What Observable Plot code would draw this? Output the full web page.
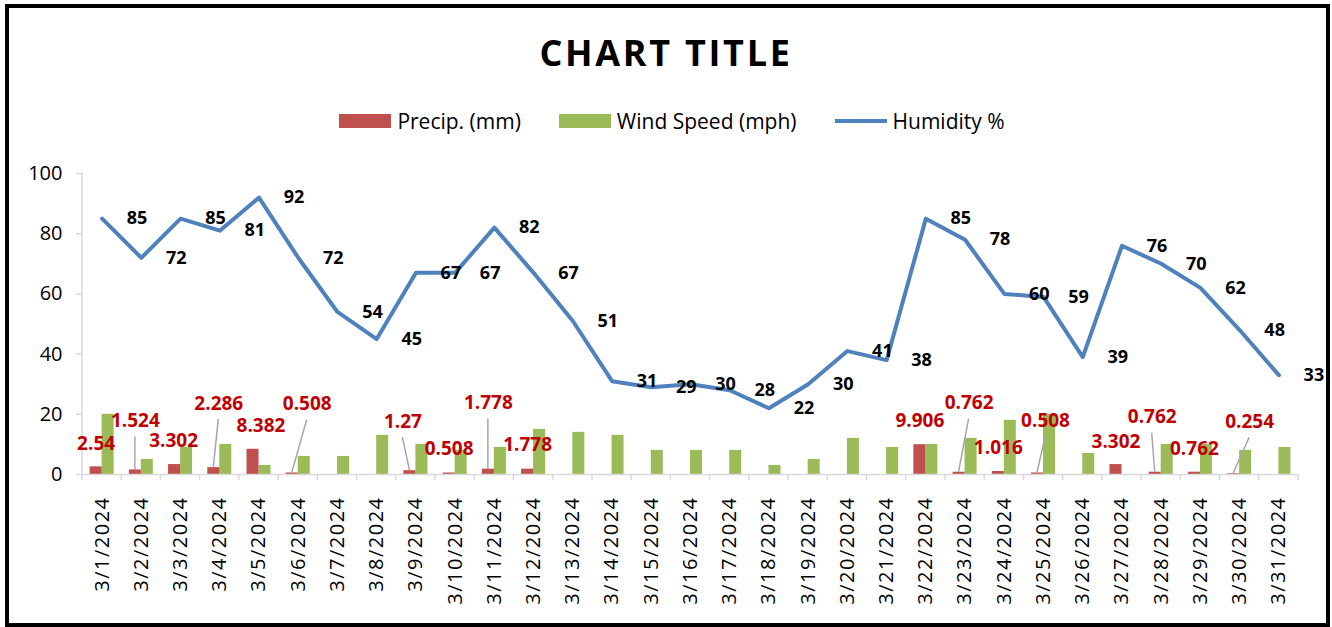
<!DOCTYPE html>
<html>
<head>
<meta charset="utf-8">
<script src="https://cdn.jsdelivr.net/npm/d3@7"></script>
<script src="https://cdn.jsdelivr.net/npm/@observablehq/plot@0.6"></script>
<style>
html, body { margin: 0; padding: 0; background: #fff; width: 1332px; height: 627px; overflow: hidden; font-family: "Open Sans", sans-serif; }
#frame { position: absolute; left: 5px; top: 4px; width: 1317px; height: 615px; border: 4px solid #000; pointer-events: none; z-index: 5; }
#title { position: absolute; left: 0; width: 1332px; top: 28px; text-align: center; font-weight: 700; font-size: 36px; letter-spacing: 2.7px; line-height: 50px; color: #000; }
#legend { position: absolute; top: 107px; left: 6px; width: 1332px; display: flex; justify-content: center; align-items: center; font-size: 21px; line-height: 28px; color: #000; }
.item { display: flex; align-items: center; margin: 0 19px; }
.sw { width: 52px; height: 14px; margin-right: 6px; }
.ln { width: 52px; height: 4px; margin-right: 6px; }
#chart { position: absolute; left: 0; top: 150px; }
#chart g[aria-label="x-axis tick label"] text { letter-spacing: 1.5px; }
</style>
</head>
<body>
<div id="frame"></div>
<div id="title">CHART TITLE</div>
<div id="legend"></div>
<div id="chart"></div>
<script>
// ---- data ----
const dates = ["3/1/2024","3/2/2024","3/3/2024","3/4/2024","3/5/2024","3/6/2024","3/7/2024","3/8/2024","3/9/2024","3/10/2024",
  "3/11/2024","3/12/2024","3/13/2024","3/14/2024","3/15/2024","3/16/2024","3/17/2024","3/18/2024","3/19/2024","3/20/2024",
  "3/21/2024","3/22/2024","3/23/2024","3/24/2024","3/25/2024","3/26/2024","3/27/2024","3/28/2024","3/29/2024","3/30/2024","3/31/2024"];
const precip = [2.54, 1.524, 3.302, 2.286, 8.382, 0.508, 0, 0, 1.27, 0.508,
  1.778, 1.778, 0, 0, 0, 0, 0, 0, 0, 0,
  0, 9.906, 0.762, 1.016, 0.508, 0, 3.302, 0.762, 0.762, 0.254, 0];
const wind = [20, 5, 9, 10, 3, 6, 6, 13, 10, 8,
  9, 15, 14, 13, 8, 8, 8, 3, 5, 12,
  9, 10, 12, 18, 20, 7, 0, 10, 10, 8, 9];
const humidity = [85, 72, 85, 81, 92, 72, 54, 45, 67, 67,
  82, 67, 51, 31, 29, 30, 28, 22, 30, 41,
  38, 85, 78, 60, 59, 39, 76, 70, 62, 48, 33];
const yTicks = [0, 20, 40, 60, 80, 100];
const seriesNames = ["Precip. (mm)", "Wind Speed (mph)", "Humidity %"];

// ---- label placement (annotation layout: index, dx, dy in px from bar top, leader line) ----
const precipLabelLayout = [
  [0, 0, -23, false], [1, 0, -49, true], [2, -1, -24, false], [3, 5, -64, true],
  [4, 8, -23, false], [5, 15, -69, true], [8, -7, -49, true], [9, 0, -24, false],
  [10, 0, -66, true], [11, 0, -24, false], [21, 0, -24, false], [22, 10, -69, true],
  [23, 0, -24, false], [24, 8, -52, true], [26, 0, -23, false], [27, -3, -55, true],
  [28, 0, -23, false], [29, 16, -52, true]
];

// ---- styles ----
const colPrecip = "#C0504D", colWind = "#9BBB59", colHum = "#4F81BD", colLabel = "#C00000", colAxis = "#d9d9d9";
const half = 12; // half band width taken by each bar

// legend
const legend = document.getElementById("legend");
[[seriesNames[0], "sw", colPrecip], [seriesNames[1], "sw", colWind], [seriesNames[2], "ln", colHum]].forEach(([name, cls, c]) => {
  const it = document.createElement("div"); it.className = "item";
  const s = document.createElement("div"); s.className = cls; s.style.background = c;
  const t = document.createElement("span"); t.textContent = name;
  it.appendChild(s); it.appendChild(t); legend.appendChild(it);
});

const table = dates.map((d, i) => ({date: d, precip: precip[i], wind: wind[i], humidity: humidity[i]}));

function bandInfo(x, scales) {
  const bw = typeof x.bandwidth === "function" ? x.bandwidth() : scales.scales.x.bandwidth;
  const step = typeof x.step === "function" ? x.step() : scales.scales.x.step;
  return {bw, step};
}

// axis lines, category boundary ticks
function axisDecor(index, scales, values, dims) {
  const x = scales.x, y = scales.y;
  const {bw, step} = bandInfo(x, scales);
  const g = d3.create("svg:g").attr("stroke", colAxis).attr("stroke-width", 1.5).attr("fill", "none");
  const y0 = y(0);
  g.append("line").attr("x1", dims.marginLeft).attr("x2", dims.marginLeft).attr("y1", y(100)).attr("y2", y0);
  const bounds = dates.map(d => x(d) - (step - bw) / 2);
  bounds.push(x(dates[dates.length - 1]) + bw + (step - bw) / 2);
  for (const b of bounds) g.append("line").attr("x1", b).attr("x2", b).attr("y1", y0).attr("y2", y0 + 6);
  return g.node();
}

// leader lines from moved labels to their bars
function leaders(index, scales) {
  const x = scales.x, y = scales.y;
  const {bw} = bandInfo(x, scales);
  const g = d3.create("svg:g").attr("stroke", "#a6a6a6").attr("stroke-width", 1.5);
  for (const [i, dx, dy, leader] of precipLabelLayout) {
    if (!leader) continue;
    const cx = x(dates[i]) + (bw - half) / 2;
    const top = y(precip[i]);
    g.append("line").attr("x1", cx).attr("y1", top).attr("x2", cx + dx).attr("y2", top + dy + 16);
  }
  return g.node();
}

const labelMarks = precipLabelLayout.map(([i, dx, dy]) =>
  Plot.text([table[i]], {
    x: "date", y: "precip", text: d => String(d.precip),
    dx: -half / 2 + dx, dy: dy, fill: colLabel, fontWeight: "bold", fontSize: 19
  })
);

const chart = Plot.plot({
  width: 1332,
  height: 470,
  marginTop: 23,
  marginBottom: 146,
  marginLeft: 82,
  marginRight: 34,
  style: {fontFamily: "'Open Sans', sans-serif", fontSize: "20px", color: "#000", background: "transparent", overflow: "visible"},
  x: {type: "band", domain: dates, paddingInner: 0.388, paddingOuter: 0.194, round: false},
  y: {domain: [0, 100]},
  marks: [
    Plot.barY(table, {x: "date", y: "wind", fill: colWind, insetLeft: half}),
    Plot.barY(table, {x: "date", y: "precip", fill: colPrecip, insetRight: half}),
    Plot.ruleY([0], {stroke: colAxis, strokeWidth: 1.5}),
    axisDecor,
    Plot.axisY({ticks: yTicks, tickSize: 6, tickPadding: 14, stroke: colAxis, strokeWidth: 1.5, fill: "#000", fontSize: 20, label: null}),
    Plot.axisX({tickRotate: -90, tickSize: 0, tickPadding: 22, fill: "#000", fontSize: 20, label: null}),
    Plot.lineY(table, {x: "date", y: "humidity", stroke: colHum, strokeWidth: 4, strokeLinejoin: "round", strokeLinecap: "round"}),
    Plot.text(table, {x: "date", y: "humidity", text: d => String(d.humidity), dx: 35, fill: "#000", fontWeight: "bold", fontSize: 18}),
    leaders,
    ...labelMarks
  ]
});
document.getElementById("chart").appendChild(chart);
</script>
</body>
</html>
